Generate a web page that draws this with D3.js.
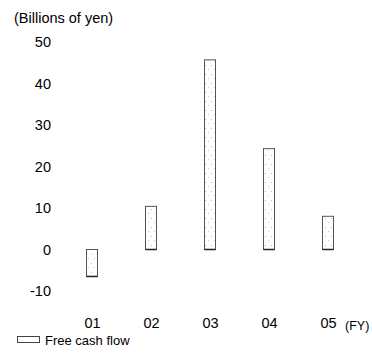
<!DOCTYPE html>
<html><head><meta charset="utf-8">
<script src="https://cdn.jsdelivr.net/npm/d3@7"></script>
<style>body{margin:0;background:#fff}svg{display:block}text{font-family:"Liberation Sans",Arial,sans-serif;fill:#000}</style>
</head><body><svg id="c" width="372" height="355"></svg>
<script>
const categories = ["01","02","03","04","05"];
const freeCashFlow = [-6.5, 10.4, 45.7, 24.3, 8.0];
const yTicks = [50,40,30,20,10,0,-10];
const unitLabel = "(Billions of yen)";
const periodLabel = "(FY)";
const legendLabel = "Free cash flow";

const svg = d3.select("#c");
const y = d3.scaleLinear().domain([-10,50]).range([291,42]);
const x = d3.scalePoint().domain(categories).range([92,328]);
const bw = 11;

svg.append("text").attr("x",14).attr("y",23).attr("font-size",14.5).text(unitLabel);

const yAxis = d3.axisLeft(y).tickValues(yTicks).tickSize(0).tickPadding(0).tickFormat(d=>String(d));
const gy = svg.append("g").attr("transform","translate(51,0)").call(yAxis);
gy.select(".domain").remove();
gy.selectAll("text").attr("font-size",14.5).attr("font-family","Liberation Sans, Arial, sans-serif").attr("fill","#000");

const xAxis = d3.axisBottom(x).tickSize(0).tickPadding(0);
const gx = svg.append("g").attr("transform","translate(0,318)").call(xAxis);
gx.select(".domain").remove();
gx.selectAll("text").attr("font-size",14.5).attr("font-family","Liberation Sans, Arial, sans-serif").attr("fill","#000");

svg.append("text").attr("x",345).attr("y",330).attr("font-size",12.5).text(periodLabel);

const defs = svg.append("defs");
const pat = defs.append("pattern").attr("id","stip").attr("patternUnits","userSpaceOnUse").attr("width",6).attr("height",9);
pat.append("rect").attr("width",6).attr("height",9).attr("fill","#fff");
pat.append("rect").attr("x",1).attr("y",2).attr("width",1).attr("height",1).attr("fill","#bbb");
pat.append("rect").attr("x",4).attr("y",6).attr("width",1).attr("height",1).attr("fill","#ccc");

svg.append("g").selectAll("rect").data(categories).join("rect")
  .attr("x",d=>x(d)-bw/2)
  .attr("y",(d,i)=>Math.min(y(0),y(freeCashFlow[i])))
  .attr("width",bw)
  .attr("height",(d,i)=>Math.abs(y(freeCashFlow[i])-y(0)))
  .attr("fill","url(#stip)")
  .attr("stroke","#555").attr("stroke-width",1);

svg.append("g").selectAll("line").data(categories).join("line")
  .attr("x1",d=>x(d)-bw/2).attr("x2",d=>x(d)+bw/2)
  .attr("y1",(d,i)=>freeCashFlow[i]>=0?y(0):y(freeCashFlow[i]))
  .attr("y2",(d,i)=>freeCashFlow[i]>=0?y(0):y(freeCashFlow[i]))
  .attr("stroke","#222").attr("stroke-width",1.5);

svg.append("rect").attr("x",17.5).attr("y",336.5).attr("width",22).attr("height",6)
  .attr("fill","#fff").attr("stroke","#444").attr("stroke-width",1);
svg.append("text").attr("x",45).attr("y",344.5).attr("font-size",13).text(legendLabel);
</script></body></html>
